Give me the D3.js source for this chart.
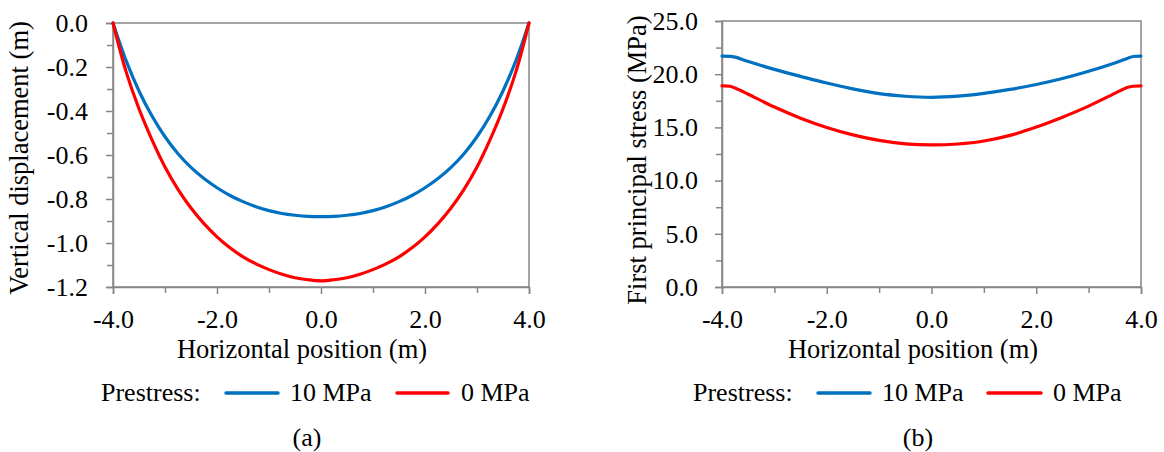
<!DOCTYPE html>
<html>
<head>
<meta charset="utf-8">
<script src="https://cdn.jsdelivr.net/npm/d3@7"></script>
<style>
  html, body { margin: 0; padding: 0; background: #fff; }
  svg text { font-family: "Liberation Serif", "Times New Roman", serif !important; fill: #000; }
</style>
</head>
<body>
<svg id="chart" width="1164" height="452"></svg>
<script>
// ---------- data ----------
const positionsA = [-4, -3.75, -3.5, -3.25, -3, -2.75, -2.5, -2.25, -2, -1.75, -1.5, -1.25, -1, -0.75, -0.5, -0.25, 0,
                   0.25, 0.5, 0.75, 1, 1.25, 1.5, 1.75, 2, 2.25, 2.5, 2.75, 3, 3.25, 3.5, 3.75, 4];
const dispPrestress10 = [0, -0.17, -0.309, -0.423, -0.517, -0.594, -0.656, -0.707, -0.749, -0.784, -0.812, -0.835, -0.853, -0.866, -0.874, -0.879, -0.88,
                         -0.879, -0.874, -0.866, -0.853, -0.835, -0.812, -0.784, -0.749, -0.707, -0.656, -0.594, -0.517, -0.423, -0.309, -0.17, 0];
const dispPrestress0 = [0, -0.22, -0.39, -0.531, -0.654, -0.756, -0.841, -0.912, -0.972, -1.022, -1.063, -1.095, -1.121, -1.142, -1.158, -1.167, -1.172,
                        -1.167, -1.158, -1.142, -1.121, -1.095, -1.063, -1.022, -0.972, -0.912, -0.841, -0.756, -0.654, -0.531, -0.39, -0.22, 0];

const positionsB = [-4, -3.85, -3.75, -3.5, -3, -2.5, -2, -1.5, -1, -0.5, 0, 0.5, 1, 1.5, 2, 2.5, 3, 3.5, 3.75, 3.85, 4];
const stressPrestress10 = [21.7, 21.68, 21.6, 21.2, 20.45, 19.8, 19.17, 18.62, 18.17, 17.93, 17.83, 17.94, 18.2, 18.57, 19.03, 19.59, 20.27, 21.05, 21.5, 21.66, 21.7];
const stressPrestress0 = [18.9, 18.87, 18.7, 18.12, 16.91, 15.87, 15.0, 14.3, 13.78, 13.46, 13.35, 13.44, 13.72, 14.25, 15.03, 15.96, 17.0, 18.2, 18.77, 18.87, 18.9];

const xMajorTicks = [-4, -2, 0, 2, 4];
const xMinorTicks = [-3, -1, 1, 3];
const yMajorTicksA = [0, -0.2, -0.4, -0.6, -0.8, -1.0, -1.2];
const yMinorTicksA = [-0.1, -0.3, -0.5, -0.7, -0.9, -1.1];
const yMajorTicksB = [0, 5, 10, 15, 20, 25];
const yMinorTicksB = [2.5, 7.5, 12.5, 17.5, 22.5];

const seriesNames = ["10 MPa", "0 MPa"];
const seriesColors = ["#0070C0", "#FF0000"];
const legendTitle = "Prestress:";
const xTitle = "Horizontal position (m)";
const yTitleA = "Vertical displacement (m)";
const yTitleB = "First principal stress (MPa)";

// ---------- drawing ----------
const svg = d3.select("#chart");
const AXIS = "#868686";
const TICKFONT = 26, TITLEFONT = 26.5, LEGENDFONT = 26;

function panel(cfg) {
  const g = svg.append("g");
  const x = d3.scaleLinear().domain([-4, 4]).range([cfg.x0, cfg.x1]);
  const y = d3.scaleLinear().domain(cfg.yDomain).range([cfg.y1, cfg.y0]);

  // frame
  g.append("rect").attr("x", cfg.x0).attr("y", cfg.y0)
    .attr("width", cfg.x1 - cfg.x0).attr("height", cfg.y1 - cfg.y0)
    .attr("fill", "none").attr("stroke", AXIS).attr("stroke-width", 1.5);

  // minor ticks
  g.append("g").attr("transform", `translate(0,${cfg.y1})`)
    .call(d3.axisBottom(x).tickValues(xMinorTicks).tickSize(6).tickFormat(""))
    .call(s => s.select(".domain").remove());
  g.append("g").attr("transform", `translate(${cfg.x0},0)`)
    .call(d3.axisLeft(y).tickValues(cfg.yMinor).tickSize(6).tickFormat(""))
    .call(s => s.select(".domain").remove());

  // major ticks
  const xa = g.append("g").attr("transform", `translate(0,${cfg.y1})`)
    .call(d3.axisBottom(x).tickValues(xMajorTicks).tickSize(7).tickPadding(16).tickFormat(d3.format(".1f")));
  const ya = g.append("g").attr("transform", `translate(${cfg.x0},0)`)
    .call(d3.axisLeft(y).tickValues(cfg.yMajor).tickSize(7).tickPadding(cfg.yPad).tickFormat(d3.format(".1f")));
  [xa, ya].forEach(a => {
    a.select(".domain").attr("stroke", AXIS).attr("stroke-width", 1.5);
  });
  g.selectAll(".tick line").attr("stroke", AXIS).attr("stroke-width", 1.5);
  g.selectAll(".tick text").attr("font-size", TICKFONT)
    .text(function(){ return this.textContent.replace("\u2212", "-"); });

  // lines
  const line = d3.line().x(d => x(d[0])).y(d => y(d[1])).curve(d3.curveCatmullRom.alpha(0.5));
  cfg.series.forEach((vals, i) => {
    g.append("path").datum(cfg.xs.map((v, j) => [v, vals[j]]))
      .attr("d", line).attr("fill", "none")
      .attr("stroke", seriesColors[i]).attr("stroke-width", 3.2)
      .attr("stroke-linejoin", "round").attr("stroke-linecap", "round");
  });

  // titles
  g.append("text").attr("x", cfg.xTitleX).attr("y", 358)
    .attr("text-anchor", "middle").attr("font-size", TITLEFONT).text(xTitle);
  g.append("text").attr("transform", `translate(${cfg.yTitleX},${cfg.yTitleY}) rotate(-90)`)
    .attr("text-anchor", "middle").attr("font-size", TITLEFONT).text(cfg.yTitle);

  // legend
  const L = cfg.legend;
  g.append("text").attr("x", L.title).attr("y", 401).attr("font-size", LEGENDFONT).text(legendTitle);
  seriesNames.forEach((n, i) => {
    g.append("line").attr("x1", L.lines[i][0]).attr("x2", L.lines[i][1])
      .attr("y1", 393).attr("y2", 393)
      .attr("stroke", seriesColors[i]).attr("stroke-width", 3.5).attr("stroke-linecap", "round");
    g.append("text").attr("x", L.labels[i]).attr("y", 401).attr("font-size", LEGENDFONT).text(n);
  });

  g.append("text").attr("x", cfg.capX).attr("y", 446).attr("text-anchor", "middle")
    .attr("font-size", LEGENDFONT).text(cfg.caption);
}

panel({
  x0: 113, x1: 529, y0: 23, y1: 287,
  yDomain: [-1.2, 0], yMajor: yMajorTicksA, yMinor: yMinorTicksA, yPad: 18,
  xs: positionsA, series: [dispPrestress10, dispPrestress0],
  xTitleX: 302, yTitleX: 28, yTitleY: 158, yTitle: yTitleA,
  legend: { title: 101, lines: [[226, 278], [397, 448]], labels: [290, 461] },
  capX: 307, caption: "(a)"
});

panel({
  x0: 722, x1: 1141, y0: 21, y1: 287,
  yDomain: [0, 25], yMajor: yMajorTicksB, yMinor: yMinorTicksB, yPad: 17,
  xs: positionsB, series: [stressPrestress10, stressPrestress0],
  xTitleX: 913, yTitleX: 646, yTitleY: 160, yTitle: yTitleB,
  legend: { title: 693, lines: [[818, 870], [988, 1041]], labels: [882, 1053] },
  capX: 918, caption: "(b)"
});
</script>
</body>
</html>
